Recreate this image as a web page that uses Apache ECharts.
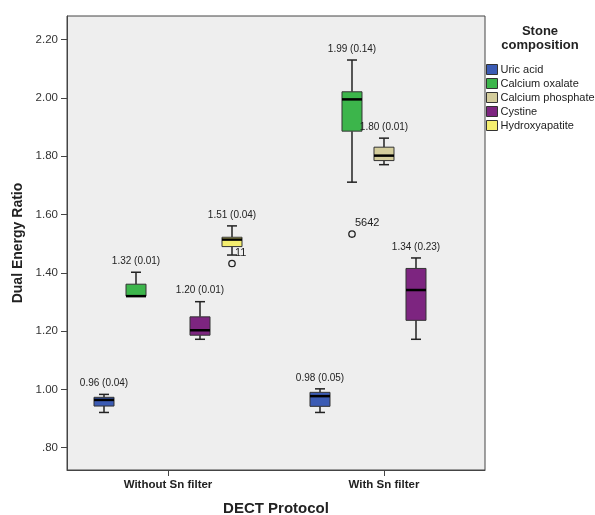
<!DOCTYPE html>
<html>
<head>
<meta charset="utf-8">
<script src="https://cdn.jsdelivr.net/npm/echarts@6/dist/echarts.min.js"></script>
<style>
html, body { margin: 0; padding: 0; background: #fff; }
#main { width: 595px; height: 515px; }
</style>
</head>
<body>
<div id="main"></div>
<script>
// 分组 / 结石类型
var groups = ['Without Sn filter', 'With Sn filter'];
var stones = ['Uric acid', 'Calcium oxalate', 'Calcium phosphate', 'Cystine', 'Hydroxyapatite'];
var colors = ['#3b5bb4', '#3cb54b', '#d4cd9c', '#7d2580', '#f4ee6f'];

// 箱线数据: [组, 下须, Q1, 中位数, Q3, 上须]
var uricAcid = [[0, 0.921, 0.943, 0.964, 0.973, 0.983], [1, 0.921, 0.942, 0.977, 0.990, 1.002]];
var calciumOxalate = [[0, 1.32, 1.32, 1.32, 1.361, 1.402], [1, 1.711, 1.886, 1.995, 2.021, 2.130]];
var calciumPhosphate = [[1, 1.771, 1.785, 1.802, 1.831, 1.862]];
var cystine = [[0, 1.172, 1.186, 1.203, 1.249, 1.301], [1, 1.172, 1.237, 1.341, 1.415, 1.451]];
var hydroxyapatite = [[0, 1.461, 1.490, 1.514, 1.522, 1.561]];

// 中位数 (IQR) 标注
var uricLabels = ['0.96 (0.04)', '0.98 (0.05)'];
var oxalateLabels = ['1.32 (0.01)', '1.99 (0.14)'];
var phosphateLabels = ['1.80 (0.01)'];
var cystineLabels = ['1.20 (0.01)', '1.34 (0.23)'];
var hydroxyLabels = ['1.51 (0.04)'];

// 离群点: [组, 结石序号, 值]
var outliers = [[0, 4, 1.432], [1, 1, 1.533]];
var outlierCases = ['11', '5642'];

// y轴刻度
var yTicks = [0.8, 1.0, 1.2, 1.4, 1.6, 1.8, 2.0, 2.2];

var FONT = 'Liberation Sans, Arial, sans-serif';
var SLOT = 32;
var BOX_W = 20;

function boxRenderer(labels) {
	return function (params, api) {
		var slot = params.seriesIndex;
		var cx = api.coord([api.value(0), 1])[0] + (slot - 2) * SLOT;
		var yLo = api.coord([0, api.value(1)])[1];
		var yQ1 = api.coord([0, api.value(2)])[1];
		var yMed = api.coord([0, api.value(3)])[1];
		var yQ3 = api.coord([0, api.value(4)])[1];
		var yHi = api.coord([0, api.value(5)])[1];
		var line = { stroke: '#222', lineWidth: 1.5 };
		var children = [];
		if (yHi < yQ3 - 0.5) {
			children.push({ type: 'line', shape: { x1: cx, y1: yHi, x2: cx, y2: yQ3 }, style: line });
			children.push({ type: 'line', shape: { x1: cx - 5, y1: yHi, x2: cx + 5, y2: yHi }, style: line });
		}
		if (yLo > yQ1 + 0.5) {
			children.push({ type: 'line', shape: { x1: cx, y1: yQ1, x2: cx, y2: yLo }, style: line });
			children.push({ type: 'line', shape: { x1: cx - 5, y1: yLo, x2: cx + 5, y2: yLo }, style: line });
		}
		children.push({
			type: 'rect',
			shape: { x: cx - BOX_W / 2, y: yQ3, width: BOX_W, height: yQ1 - yQ3 },
			style: { fill: colors[slot], stroke: '#333', lineWidth: 1 }
		});
		children.push({
			type: 'line',
			shape: { x1: cx - BOX_W / 2, y1: yMed, x2: cx + BOX_W / 2, y2: yMed },
			style: { stroke: '#000', lineWidth: 2.5 }
		});
		children.push({
			type: 'text',
			x: cx, y: yHi - 11,
			style: {
				text: labels[params.dataIndex], fill: '#222', font: '10px ' + FONT,
				align: 'center', verticalAlign: 'middle'
			}
		});
		return { type: 'group', children: children };
	};
}

function outlierRenderer(params, api) {
	var cx = api.coord([api.value(0), 1])[0] + (api.value(1) - 2) * SLOT;
	var cy = api.coord([0, api.value(2)])[1];
	return {
		type: 'group',
		children: [{
			type: 'circle',
			shape: { cx: cx, cy: cy, r: 3.2 },
			style: { fill: 'none', stroke: '#222', lineWidth: 1.3 }
		}, {
			type: 'text',
			x: cx + 3, y: cy - 11,
			style: {
				text: outlierCases[params.dataIndex], fill: '#222', font: '11px ' + FONT,
				align: 'left', verticalAlign: 'middle'
			}
		}]
	};
}

var boxData = [uricAcid, calciumOxalate, calciumPhosphate, cystine, hydroxyapatite];
var boxLabels = [uricLabels, oxalateLabels, phosphateLabels, cystineLabels, hydroxyLabels];

var series = stones.map(function (name, i) {
	return {
		name: name,
		type: 'custom',
		renderItem: boxRenderer(boxLabels[i]),
		itemStyle: { color: colors[i] },
		encode: { x: 0, y: [1, 2, 3, 4, 5] },
		data: boxData[i]
	};
});
series.push({
	name: 'outliers',
	type: 'custom',
	renderItem: outlierRenderer,
	encode: { x: 0, y: 2 },
	data: outliers
});

var myChart = echarts.init(document.getElementById('main'));
var option = {
	animation: false,
	textStyle: { fontFamily: FONT },
	grid: {
		left: 67, top: 16, right: 110, bottom: 45,
		containLabel: false, outerBoundsMode: 'none',
		show: true, backgroundColor: '#eeeeee', borderColor: '#444', borderWidth: 1
	},
	legend: {
		data: stones,
		orient: 'vertical',
		left: 486, top: 64,
		padding: 0,
		icon: 'rect',
		itemWidth: 11, itemHeight: 10, itemGap: 3,
		selectedMode: false,
		itemStyle: { borderColor: '#333', borderWidth: 1 },
		textStyle: { fontSize: 11, color: '#222', fontFamily: FONT, padding: [0, 0, 0, -2] }
	},
	graphic: [{
		type: 'text',
		x: 540, y: 24,
		style: {
			text: 'Stone\ncomposition', fill: '#222', font: 'bold 13px ' + FONT,
			align: 'center', lineHeight: 14
		}
	}],
	xAxis: {
		type: 'value',
		min: -0.4676, max: 1.4676,
		name: 'DECT Protocol', nameLocation: 'middle', nameGap: 31,
		nameTextStyle: { fontSize: 15, fontWeight: 'bold', color: '#222' },
		axisLine: { show: true, onZero: false, lineStyle: { color: '#444' } },
		axisTick: { show: true, customValues: [0, 1], length: 6, lineStyle: { color: '#444' } },
		axisLabel: {
			customValues: [0, 1], margin: 9, fontSize: 11.5, fontWeight: 'bold', color: '#222',
			formatter: function (v) { return groups[Math.round(v)]; }
		},
		splitLine: { show: false }
	},
	yAxis: {
		type: 'value',
		min: 0.7236, max: 2.281,
		name: 'Dual Energy Ratio', nameLocation: 'middle', nameGap: 38,
		nameTextStyle: { fontSize: 14, fontWeight: 'bold', color: '#222' },
		axisLine: { show: true, onZero: false, lineStyle: { color: '#444' } },
		axisTick: { show: true, customValues: yTicks, length: 6, lineStyle: { color: '#444' } },
		axisLabel: {
			customValues: yTicks, margin: 9, fontSize: 11.5, color: '#333',
			formatter: function (v) { return v.toFixed(2).replace(/^0/, ''); }
		},
		splitLine: { show: false }
	},
	series: series
};
myChart.setOption(option);
</script>
</body>
</html>
